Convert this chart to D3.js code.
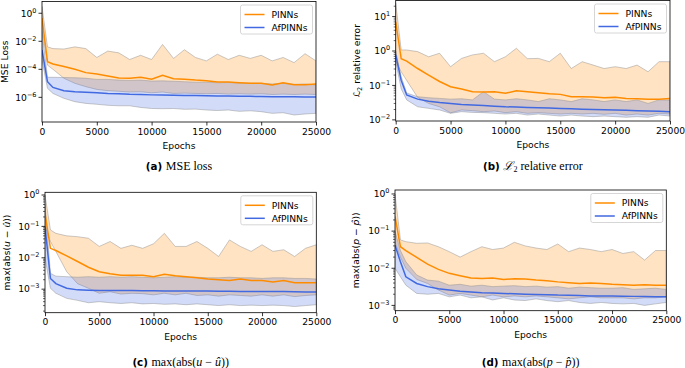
<!DOCTYPE html>
<html><head><meta charset="utf-8">
<script src="https://cdn.jsdelivr.net/npm/d3@7"></script>
<style>body{margin:0;background:#fff} svg{display:block}</style>
</head><body><svg id="c" width="685" height="368"></svg>
<script>
// ---------- data ----------
const epochs = [0,500,1000,2000,3000,4000,5000,6000,7000,8000,9000,10000,11000,12000,13000,14000,15000,16000,17000,18000,19000,20000,21000,22000,23000,24000,25000];
const xTicks = [0,5000,10000,15000,20000,25000];
const seriesNames = ["PINNs","AfPINNs"];

// (a) MSE loss
const mseP_mean = [0.46,3.5e-4,2.4e-4,1.6e-4,1e-4,5.8e-5,4.6e-5,3.3e-5,2.4e-5,2.3e-5,2.7e-5,1.95e-5,3.7e-5,2.1e-5,1.95e-5,1.7e-5,1.55e-5,1.25e-5,1.25e-5,1.1e-5,1e-5,1e-5,7.6e-6,1.1e-5,8e-6,8e-6,9e-6];
const mseP_hi = [3,4e-3,3e-3,2.8e-3,4e-3,3e-3,7e-4,2e-3,1.5e-3,5e-4,1e-3,5e-4,6e-3,6e-4,2.5e-3,7e-4,4e-4,1.2e-3,5e-4,1e-3,6e-4,1e-3,4e-4,7e-4,3e-4,1.3e-3,4e-4];
const mseP_lo = [0.1,2e-4,1e-4,2.3e-5,1e-5,5.8e-6,3.7e-6,3e-6,2.7e-6,2.4e-6,2.5e-6,2.1e-6,2.4e-6,1.9e-6,2e-6,1.9e-6,1.8e-6,1.9e-6,1.7e-6,1.8e-6,1.7e-6,1.8e-6,1.6e-6,1.7e-6,1.6e-6,1.7e-6,1.6e-6];
const mseA_mean = [2.4e-3,1.3e-5,5.1e-6,3e-6,2.5e-6,2.3e-6,2.1e-6,1.9e-6,1.8e-6,1.65e-6,1.6e-6,1.5e-6,1.45e-6,1.4e-6,1.38e-6,1.33e-6,1.3e-6,1.27e-6,1.24e-6,1.2e-6,1.18e-6,1.15e-6,1.12e-6,1.1e-6,1.08e-6,1.06e-6,1.05e-6];
const mseA_hi = [5e-2,2.7e-5,2.7e-5,2.6e-5,2.5e-5,2.3e-5,1.9e-5,1.9e-5,1.7e-5,1.6e-5,1.7e-5,1.45e-5,1.5e-5,1.4e-5,1.3e-5,1.2e-5,1.2e-5,1.1e-5,1.15e-5,1.05e-5,1e-5,1e-5,9e-6,1e-5,8.5e-6,9e-6,7.6e-6];
const mseA_lo = [5e-4,4.4e-6,1.9e-6,8.5e-7,4.9e-7,3.7e-7,3.2e-7,2.7e-7,2.5e-7,2.5e-7,1.9e-7,1.6e-7,1.55e-7,1.6e-7,1.4e-7,1.45e-7,1.25e-7,1.15e-7,1.25e-7,1e-7,1.1e-7,9.5e-8,7.2e-8,8e-8,5.5e-8,6.5e-8,7.2e-8];

// (b) L2 relative error
const l2P_mean = [7,0.6,0.51,0.31,0.2,0.13,0.092,0.079,0.066,0.065,0.066,0.059,0.07,0.066,0.061,0.057,0.055,0.047,0.047,0.046,0.044,0.045,0.042,0.041,0.04,0.04,0.042];
const l2P_hi = [25,1.07,1.07,0.96,0.68,0.86,0.35,0.61,0.77,0.86,0.49,0.68,1.2,0.6,0.61,0.49,0.86,0.31,0.49,0.39,0.31,0.35,0.31,0.39,0.25,0.49,0.49];
const l2P_lo = [0.5,0.25,0.14,0.045,0.03,0.024,0.016,0.0194,0.0185,0.0173,0.0181,0.0162,0.0173,0.0155,0.0162,0.0155,0.0148,0.0155,0.0148,0.0155,0.0145,0.0155,0.0138,0.0148,0.0138,0.0155,0.0148];
const l2A_mean = [0.77,0.14,0.053,0.04,0.035,0.032,0.03,0.028,0.027,0.026,0.025,0.024,0.0235,0.023,0.0225,0.022,0.0215,0.021,0.0205,0.02,0.0197,0.0194,0.019,0.0185,0.018,0.0177,0.0173];
const l2A_hi = [1.0,0.18,0.06,0.047,0.044,0.042,0.04,0.041,0.038,0.066,0.04,0.038,0.041,0.038,0.034,0.041,0.038,0.034,0.041,0.038,0.034,0.038,0.034,0.038,0.03,0.038,0.0375];
const l2A_lo = [0.5,0.08,0.038,0.024,0.0216,0.0194,0.0155,0.0173,0.0165,0.0162,0.0155,0.0148,0.0155,0.0138,0.0148,0.0138,0.0129,0.0138,0.0129,0.0124,0.0129,0.0124,0.0119,0.0124,0.0119,0.0138,0.0129];

// (c) max(abs(u - u_hat))
const uP_mean = [0.26,0.02,0.017,0.0115,0.0076,0.005,0.0036,0.0031,0.0028,0.0028,0.0028,0.0025,0.003,0.0027,0.0025,0.0023,0.0021,0.002,0.0019,0.0021,0.0019,0.0019,0.0017,0.0019,0.0016,0.0016,0.0016];
const uP_hi = [1.0,0.077,0.06,0.05,0.047,0.042,0.023,0.033,0.02,0.025,0.02,0.028,0.06,0.023,0.023,0.033,0.02,0.011,0.037,0.023,0.016,0.026,0.016,0.018,0.011,0.02,0.026];
const uP_lo = [0.1,0.033,0.016,0.0036,0.0015,0.00107,0.00074,0.00083,0.0007,0.00074,0.00072,0.00066,0.00074,0.00066,0.00074,0.00063,0.00066,0.0006,0.00066,0.00063,0.0006,0.00066,0.0006,0.00066,0.00058,0.00063,0.00066];
const uA_mean = [0.1,0.0022,0.0015,0.00107,0.00095,0.00093,0.00091,0.0009,0.0009,0.0009,0.00089,0.00089,0.00088,0.00088,0.00087,0.00087,0.00087,0.00086,0.00086,0.00085,0.00085,0.00085,0.00084,0.00084,0.00083,0.00082,0.00082];
const uA_hi = [0.5,0.0032,0.0026,0.0025,0.0024,0.0025,0.0024,0.0025,0.0024,0.0025,0.0024,0.0023,0.0024,0.0025,0.0024,0.0024,0.0023,0.0023,0.0024,0.0023,0.0023,0.0022,0.0023,0.0023,0.0022,0.0022,0.0021];
const uA_lo = [0.01,0.00107,0.00074,0.00051,0.00044,0.00037,0.0004,0.00037,0.00035,0.00037,0.00034,0.00035,0.00033,0.00034,0.00032,0.00034,0.00032,0.0003,0.00032,0.0003,0.00031,0.0003,0.00031,0.0003,0.00028,0.0003,0.00032];

// (d) max(abs(p - p_hat))
const pP_mean = [0.25,0.038,0.03,0.0196,0.0129,0.0093,0.0073,0.0063,0.0055,0.0053,0.0055,0.005,0.0052,0.0051,0.0048,0.0046,0.0043,0.0041,0.0039,0.004,0.0039,0.0037,0.0036,0.0035,0.0036,0.0035,0.0035];
const pP_hi = [1.0,0.058,0.052,0.047,0.048,0.038,0.028,0.02,0.028,0.038,0.032,0.035,0.05,0.04,0.035,0.032,0.045,0.028,0.035,0.032,0.028,0.032,0.025,0.028,0.0166,0.03,0.03];
const pP_lo = [0.05,0.02,0.01,0.005,0.0039,0.0026,0.0019,0.0021,0.0019,0.0017,0.0019,0.0017,0.0018,0.0017,0.0018,0.0017,0.0016,0.0015,0.0016,0.0017,0.0016,0.0016,0.0016,0.0015,0.0016,0.0016,0.0017];
const pA_mean = [0.042,0.015,0.0059,0.0039,0.0032,0.0028,0.0026,0.0024,0.0023,0.0022,0.00215,0.0021,0.00205,0.002,0.00198,0.00195,0.0019,0.00188,0.00185,0.0018,0.0018,0.00178,0.00176,0.00175,0.00173,0.00172,0.0017];
const pA_hi = [0.1,0.03,0.015,0.0066,0.0048,0.0045,0.0035,0.0037,0.0033,0.0035,0.0032,0.0033,0.0034,0.0032,0.0033,0.0031,0.0032,0.0029,0.0031,0.003,0.0029,0.0029,0.003,0.0027,0.0028,0.0029,0.0027];
const pA_lo = [0.01,0.0059,0.0035,0.0021,0.002,0.0021,0.0017,0.0019,0.0016,0.0017,0.0014,0.0016,0.0014,0.00135,0.0015,0.00135,0.00126,0.00135,0.0012,0.00113,0.0012,0.00113,0.0011,0.00113,0.001,0.0011,0.0012];

const yTicksA = [1,1e-2,1e-4,1e-6];
const yTicksB = [10,1,0.1,0.01];
const yTicksCD = [1,0.1,0.01,0.001];

// ---------- drawing ----------
const svg = d3.select("#c");
const ORANGE = "#ff8c00", BLUE = "#4169e1";
const SANS = "DejaVu Sans", SERIF = "Liberation Serif";
const FS = 9.2;

function drawPanel(p) {
  const x = d3.scaleLinear().domain([0,25000]).range([p.x0,p.x1]);
  const y = d3.scaleLog().domain(p.yDomain).range([p.y1,p.y0]);
  const g = svg.append("g");
  const clipId = "clip" + p.id;
  svg.append("clipPath").attr("id", clipId).append("rect")
    .attr("x", p.x0).attr("y", p.y0).attr("width", p.x1 - p.x0).attr("height", p.y1 - p.y0);
  const plot = g.append("g").attr("clip-path", `url(#${clipId})`);
  const sets = [
    {mean: p.P[0], lo: p.P[1], hi: p.P[2], color: ORANGE},
    {mean: p.A[0], lo: p.A[1], hi: p.A[2], color: BLUE}
  ];
  const area = d3.area().x((d,i) => x(epochs[i]));
  sets.forEach(s => {
    plot.append("path")
      .attr("d", area.y0((d,i) => y(s.lo[i])).y1((d,i) => y(s.hi[i]))(epochs))
      .attr("fill", s.color).attr("fill-opacity", 0.24)
      .attr("stroke", "#8c8c8c").attr("stroke-opacity", 0.5).attr("stroke-width", 0.9);
  });
  const line = d3.line().x((d,i) => x(epochs[i]));
  sets.forEach(s => {
    plot.append("path")
      .attr("d", line.y((d,i) => y(s.mean[i]))(epochs))
      .attr("fill", "none").attr("stroke", s.color).attr("stroke-width", 1.5);
  });

  // frame
  g.append("rect").attr("x", p.x0).attr("y", p.y0).attr("width", p.x1 - p.x0).attr("height", p.y1 - p.y0)
    .attr("fill", "none").attr("stroke", "#000").attr("stroke-width", 0.8);

  // x axis
  const xa = g.append("g").attr("transform", `translate(0,${p.y1})`)
    .call(d3.axisBottom(x).tickValues(xTicks).tickSize(3.5).tickPadding(2.5).tickFormat(d3.format("d")));
  xa.select(".domain").remove();
  xa.selectAll("line").attr("stroke-width", 0.8);
  xa.selectAll("text").attr("font-family", SANS).attr("font-size", FS).attr("fill", "#000");
  g.append("text").attr("x", (p.x0 + p.x1) / 2).attr("y", p.y1 + 27)
    .attr("text-anchor", "middle").attr("font-family", SANS).attr("font-size", FS).text("Epochs");

  // y minor ticks
  if (p.minor) {
    const [lo, hi] = p.yDomain;
    const minors = [];
    for (let e = Math.floor(Math.log10(lo)); e <= Math.ceil(Math.log10(hi)); e++)
      for (let m = 2; m <= 9; m++) { const v = m * Math.pow(10, e); if (v >= lo && v <= hi) minors.push(v); }
    g.selectAll(null).data(minors).enter().append("line")
      .attr("x1", p.x0).attr("x2", p.x0 - 2).attr("y1", d => y(d)).attr("y2", d => y(d))
      .attr("stroke", "#000").attr("stroke-width", 0.6);
  }
  // y major ticks
  g.selectAll(null).data(p.yTicks).enter().append("line")
    .attr("x1", p.x0).attr("x2", p.x0 - 3.5).attr("y1", d => y(d)).attr("y2", d => y(d))
    .attr("stroke", "#000").attr("stroke-width", 0.8);
  p.yTicks.forEach(v => {
    const e = Math.round(Math.log10(v));
    const t = g.append("text").attr("x", p.x0 - 5.5).attr("y", y(v) + 3.3)
      .attr("text-anchor", "end").attr("font-family", SANS).attr("font-size", FS);
    t.append("tspan").text("10");
    t.append("tspan").attr("font-size", 6.5).attr("dy", -4).text(e < 0 ? "\u2212" + (-e) : String(e));
  });

  // y label
  const yl = g.append("text")
    .attr("transform", `translate(${p.ylx},${(p.y0 + p.y1) / 2}) rotate(-90)`)
    .attr("text-anchor", "middle").attr("font-family", SANS).attr("font-size", FS);
  p.ylabel(yl);

  // caption
  const cap = g.append("text").attr("x", (p.x0 + p.x1) / 2).attr("y", p.capY)
    .attr("text-anchor", "middle").attr("font-size", 12).attr("font-family", SERIF);
  cap.append("tspan").attr("font-family", SANS).attr("font-weight", "bold").attr("font-size", 10.3).text(p.capTag + " ");
  p.caption(cap);

  // legend
  const lw = 72, lh = 29;
  const lx = p.x1 - 3.5 - lw, ly = p.y0 + 3.5;
  const lg = g.append("g");
  lg.append("rect").attr("x", lx).attr("y", ly).attr("width", lw).attr("height", lh).attr("rx", 2)
    .attr("fill", "#fff").attr("fill-opacity", 0.8).attr("stroke", "#ccc").attr("stroke-width", 0.8);
  [ORANGE, BLUE].forEach((c, i) => {
    const yy = ly + 9.5 + i * 13;
    lg.append("line").attr("x1", lx + 4).attr("x2", lx + 24).attr("y1", yy).attr("y2", yy)
      .attr("stroke", c).attr("stroke-width", 1.5);
    lg.append("text").attr("x", lx + 31).attr("y", yy + 3.3).attr("font-family", SANS).attr("font-size", FS)
      .text(seriesNames[i]);
  });
}

function mathUHat(sel, sym, hat) {
  sel.append("tspan").text("max(abs(");
  sel.append("tspan").attr("font-style", "italic").text(sym);
  sel.append("tspan").text(" \u2212 ");
  sel.append("tspan").attr("font-style", "italic").text(hat);
  sel.append("tspan").text("))");
}

drawPanel({
  id: "a", x0: 42, x1: 316, y0: 1.5, y1: 122, yDomain: [1.74e-8, 6.9], yTicks: yTicksA, minor: false,
  P: [mseP_mean, mseP_lo, mseP_hi], A: [mseA_mean, mseA_lo, mseA_hi],
  ylx: 7.5, ylabel: t => t.text("MSE Loss"),
  capY: 169.5, capTag: "(a)", caption: t => t.append("tspan").text("MSE loss")
});
drawPanel({
  id: "b", x0: 395.7, x1: 670, y0: 0.5, y1: 121, yDomain: [9.27e-3, 29.3], yTicks: yTicksB, minor: true,
  P: [l2P_mean, l2P_lo, l2P_hi], A: [l2A_mean, l2A_lo, l2A_hi],
  ylx: 359.5,
  ylabel: t => { t.append("tspan").text("\u2112"); t.append("tspan").attr("font-size", 6.5).attr("dy", 2).text("2");
                 t.append("tspan").attr("dy", -2).text(" relative error"); },
  capY: 169.5, capTag: "(b)",
  caption: t => { t.append("tspan").attr("font-style", "italic").text("\u2112");
                  t.append("tspan").attr("font-size", 8).attr("dy", 2.5).text("2");
                  t.append("tspan").attr("dy", -2.5).text(" relative error"); }
});
drawPanel({
  id: "c", x0: 45, x1: 316.3, y0: 192.3, y1: 312.7, yDomain: [1.78e-4, 1.22], yTicks: yTicksCD, minor: true,
  P: [uP_mean, uP_lo, uP_hi], A: [uA_mean, uA_lo, uA_hi],
  ylx: 9.5, ylabel: t => mathUHat(t, "u", "\u00fb"),
  capY: 366, capTag: "(c)", caption: t => mathUHat(t, "u", "\u00fb")
});
drawPanel({
  id: "d", x0: 395, x1: 666.3, y0: 190, y1: 310.7, yDomain: [7.2e-4, 1.28], yTicks: yTicksCD, minor: true,
  P: [pP_mean, pP_lo, pP_hi], A: [pA_mean, pA_lo, pA_hi],
  ylx: 359, ylabel: t => mathUHat(t, "p", "p\u0302"),
  capY: 366, capTag: "(d)", caption: t => mathUHat(t, "p", "p\u0302")
});
</script></body></html>
